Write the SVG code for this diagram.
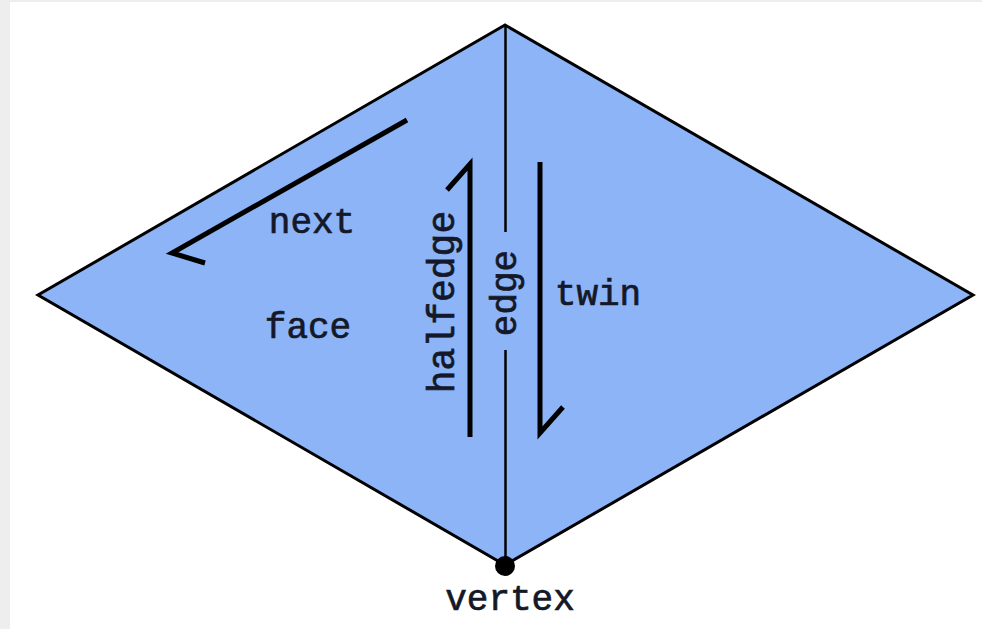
<svg xmlns="http://www.w3.org/2000/svg" width="982" height="629" viewBox="0 0 982 629">
<style>
.lbl{font-family:"Liberation Mono","Courier New",monospace;font-size:36px;fill:#141828;stroke:#141828;stroke-width:0.7;text-anchor:middle}
.arr{fill:none;stroke:#000;stroke-width:5;stroke-linecap:butt;stroke-linejoin:miter}
.edge{fill:none;stroke:#000;stroke-width:2.5}
</style>
<rect width="982" height="629" fill="#eeeeee"/>
<rect x="10" y="2" width="972" height="627" fill="#ffffff"/>
<g id="faces">
<polygon id="face-left" points="505,25 38,295 505,565" fill="#8cb4f6"/>
<polygon id="face-right" points="505,25 973,295 505,565" fill="#8cb4f6"/>
<polygon id="outline" points="505,25 38,295 505,565 973,295" fill="none" stroke="#000" stroke-width="3" stroke-linejoin="miter"/>
</g>
<g id="connectors">
<line class="edge" x1="505.5" y1="25" x2="505.5" y2="232"/>
<line class="edge" x1="505.5" y1="350" x2="505.5" y2="565"/>
<polyline id="next-arrow" class="arr" points="407,120 172,253 205,263"/>
<polyline id="halfedge-arrow" class="arr" points="447,190 470,164 470,437"/>
<polyline id="twin-arrow" class="arr" points="540,162 540,433 563,407"/>
</g>
<g id="vertex">
<circle cx="505" cy="566" r="10" fill="#000"/>
<text class="lbl" x="510" y="610">vertex</text>
</g>
<g id="labels">
<text class="lbl" x="312" y="233">next</text>
<text class="lbl" x="308" y="338">face</text>
<text class="lbl" x="598" y="305">twin</text>
<text class="lbl" transform="translate(454,302) rotate(-90)" style="font-size:38px">halfedge</text>
<text class="lbl" transform="translate(516,293) rotate(-90)">edge</text>
</g>
</svg>
